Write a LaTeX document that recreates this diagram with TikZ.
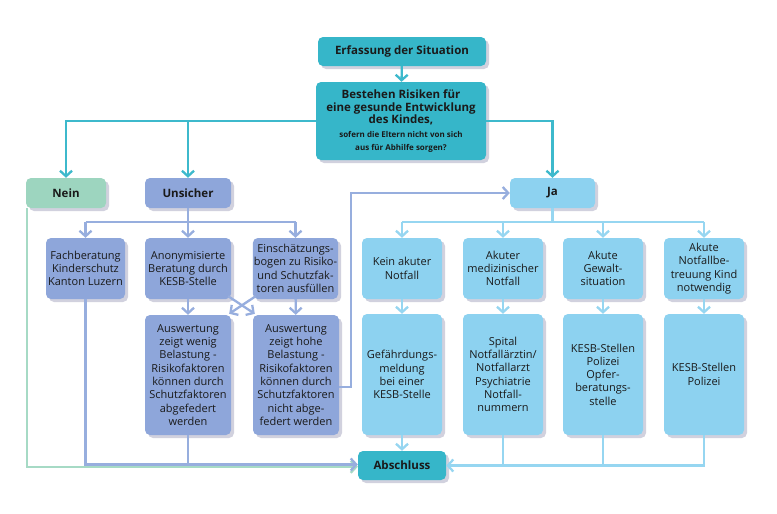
\documentclass[tikz,border=0pt]{standalone}
\usepackage{fontspec}
\setmainfont{Open Sans}
\usetikzlibrary{arrows.meta,shadows,calc}
\definecolor{tealF}{HTML}{36B6C9}
\definecolor{tealL}{HTML}{3DB9CC}
\definecolor{greenF}{HTML}{9DD5BF}
\definecolor{greenL}{HTML}{A6DAC5}
\definecolor{periF}{HTML}{8EA6DA}
\definecolor{periL}{HTML}{97AEDE}
\definecolor{ltF}{HTML}{8DD2F0}
\definecolor{ltL}{HTML}{96D6F1}
\definecolor{txt}{HTML}{1A1A1A}
\begin{document}
\begin{tikzpicture}[x=1pt,y=-1pt,
  base/.style={rounded corners=5pt, align=center, inner sep=1pt, text=txt,
    font=\fontsize{11}{13.3}\selectfont,
    drop shadow={shadow xshift=3pt,shadow yshift=-3pt,opacity=0.18,fill=black!70!blue}},
  tealbox/.style={base, fill=tealF, font=\bfseries\fontsize{11.5}{12.6}\selectfont},
  greenbox/.style={base, fill=greenF, font=\bfseries\fontsize{11.5}{12.6}\selectfont},
  pbox/.style={base, fill=periF},
  pboxb/.style={base, fill=periF, font=\bfseries\fontsize{11.5}{12.6}\selectfont},
  lbox/.style={base, fill=ltF},
  lboxb/.style={base, fill=ltF, font=\bfseries\fontsize{11.5}{12.6}\selectfont},
  conn/.style={line width=2.3pt},
  arr/.style={-{Straight Barb[length=5.5pt,width=12pt]}},
  tl/.style={conn, draw=tealL},
  gl/.style={conn, draw=greenL},
  pl/.style={conn, draw=periL},
  ll/.style={conn, draw=ltL},
  topw/.style={minimum width=80pt, minimum height=61pt},
  botw/.style={minimum width=80pt, minimum height=121pt}
]
\useasboundingbox (0,0) rectangle (777,514);
\fill[white] (0,0) rectangle (777,514);

% top
\node[tealbox, minimum width=168pt, minimum height=29pt] (erf) at (402,51.5) {Erfassung der Situation};
\node[tealbox, minimum width=170pt, minimum height=78pt] (main) at (401,121)
  {Bestehen Risiken für\\eine gesunde Entwicklung\\des Kindes,\\[1pt]
   \fontsize{8}{10}\selectfont sofern die Eltern nicht von sich\\
   \fontsize{8}{10}\selectfont aus für Abhilfe sorgen?};

% second level
\node[greenbox, minimum width=80pt, minimum height=30pt] (nein) at (66,193) {Nein};
\node[pboxb, minimum width=86pt, minimum height=30pt] (uns) at (188,193) {Unsicher};
\node[lboxb, minimum width=85pt, minimum height=30pt] (ja) at (552.5,193) {Ja};

% Unsicher branch
\node[pbox, minimum width=79pt, minimum height=61pt] (fach) at (85.5,268.5) {Fachberatung\\Kinderschutz\\Kanton Luzern};
\node[pbox, minimum width=86pt, minimum height=61pt] (anon) at (188,268.5) {Anonymisierte\\Beratung durch\\KESB-Stelle};
\node[pbox, minimum width=85pt, minimum height=61pt] (ein) at (295.5,268.5) {Einschätzungs-\\bogen zu Risiko-\\und Schutzfak-\\toren ausfüllen};
\node[pbox, minimum width=86pt, minimum height=120pt] (wen) at (188,375) {Auswertung\\zeigt wenig\\Belastung -\\Risikofaktoren\\können durch\\Schutzfaktoren\\abgefedert\\werden};
\node[pbox, minimum width=86pt, minimum height=120pt] (hoh) at (296,375) {Auswertung\\zeigt hohe\\Belastung -\\Risikofaktoren\\können durch\\Schutzfaktoren\\nicht abge-\\federt werden};

% Ja branch
\node[lbox, topw] (kein) at (402,268.5) {Kein akuter\\Notfall};
\node[lbox, topw] (med) at (503,268.5) {Akuter\\medizinischer\\Notfall};
\node[lbox, topw] (gew) at (603,268.5) {Akute\\Gewalt-\\situation};
\node[lbox, topw] (nfb) at (704,268.5) {Akute\\Notfallbe-\\treuung Kind\\notwendig};
\node[lbox, botw] (kein2) at (402,374.5) {Gefährdungs-\\meldung\\bei einer\\KESB-Stelle};
\node[lbox, botw] (med2) at (503,374.5) {Spital\\Notfallärztin/\\Notfallarzt\\Psychiatrie\\Notfall-\\nummern};
\node[lbox, botw] (gew2) at (603,374.5) {KESB-Stellen\\Polizei\\Opfer-\\beratungs-\\stelle};
\node[lbox, botw] (nfb2) at (704,374.5) {KESB-Stellen\\Polizei};

\node[tealbox, minimum width=88pt, minimum height=29pt] (ab) at (402,465.5) {Abschluss};

% teal connectors
\draw[tl,arr] (erf) -- (main);
\draw[tl,arr] (main.west) -| (nein.north);
\draw[tl,arr] (uns.north |- main.west) -- (uns.north);
\draw[tl,arr] (main.east) -| (ja.north);

% Unsicher connectors
\draw[pl] (uns.south) -- ++(0,14) coordinate (ub);
\draw[pl] (fach.north |- ub) -- (ein.north |- ub);
\draw[pl,arr] (fach.north |- ub) -- (fach.north);
\draw[pl,arr] (ub) -- (anon.north);
\draw[pl,arr] (ein.north |- ub) -- (ein.north);
\draw[pl,arr] (anon) -- (wen);
\draw[pl,arr] (ein) -- (hoh);
\draw[pl,arr] ([xshift=-3pt,yshift=3pt]anon.south east) -- ([xshift=2pt,yshift=1pt]hoh.north west);
\draw[pl,arr] ([xshift=3pt,yshift=3pt]ein.south west) -- ([xshift=-2pt,yshift=1pt]wen.north east);
\coordinate (bend) at (351,387);
\draw[pl,arr] (hoh.east |- bend) -- (bend) |- (ja.west);

% Nein and Unsicher to Abschluss
\coordinate (abB) at ([yshift=1pt]ab.west);
\coordinate (abG) at ([yshift=-1.3pt]ab.west);
\draw[gl,arr] ([xshift=1.5pt]nein.south west) |- (abG);
\draw[pl,arr] (fach.south) |- (abB);
\draw[pl] (wen.south) -- (wen.south |- abB);

% Ja connectors
\draw[ll] (ja.south) -- ++(0,14) coordinate (jb);
\draw[ll] (kein.north |- jb) -- (nfb.north |- jb);
\foreach \n in {kein,med,gew,nfb}{
  \draw[ll,arr] (\n.north |- jb) -- (\n.north);
  \draw[ll,arr] (\n) -- (\n2);
}
\draw[ll,arr] (kein2) -- (ab);
\draw[ll,arr] (nfb2.south) |- (ab.east);
\draw[ll] (med2.south) -- (med2.south |- ab.east);
\draw[ll] (gew2.south) -- (gew2.south |- ab.east);
\end{tikzpicture}
\end{document}
